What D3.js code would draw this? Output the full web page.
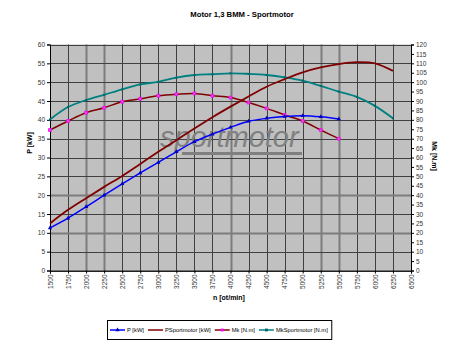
<!DOCTYPE html>
<html>
<head>
<meta charset="utf-8">
<script src="https://cdn.jsdelivr.net/npm/d3@7"></script>
<style>
  body { margin: 0; background: #fff; }
  text { font-family: "Liberation Sans", Arial, sans-serif; }
</style>
</head>
<body>
<div id="chart"></div>
<script>
// data
var rpm = [1500, 1750, 2000, 2250, 2500, 2750, 3000, 3250, 3500, 3750, 4000,
           4250, 4500, 4750, 5000, 5250, 5500, 5750, 6000, 6250];
var pKw = [11.3, 13.9, 16.9, 20.0, 23.0, 25.9, 28.7, 31.5, 34.2, 36.2, 38.0,
           39.6, 40.4, 40.9, 41.1, 40.8, 40.2];
var pSportKw = [12.5, 16.1, 19.2, 22.2, 25.1, 28.3, 31.5, 34.6, 37.7, 40.7, 43.5,
                46.2, 48.8, 50.8, 52.6, 53.9, 54.8, 55.3, 55.0, 53.0];
var mkNm = [74.6, 79.4, 83.8, 86.4, 89.6, 91.2, 92.8, 93.6, 94.0, 92.8, 91.8,
            89.2, 86.1, 82.6, 79.4, 74.6, 70.0];
var mkSportNm = [80.2, 86.8, 90.5, 93.3, 96.2, 98.8, 100.2, 102.4, 103.8, 104.2, 104.7,
                 104.4, 103.8, 102.6, 100.8, 98.0, 95.0, 92.2, 87.4, 80.8];

var xTicks = d3.range(1500, 6501, 250);
var yLeftTicks = d3.range(0, 61, 5);
var yRightTicks = d3.range(0, 121, 5);

function init(){
  var w = 472, h = 353;
  var pLeft = 50, pRight = 411, pTop = 44.5, pBottom = 270.5;

  var svg = d3.select("#chart").append("svg")
    .attr("width", w).attr("height", h);

  var x = d3.scaleLinear().domain([1500, 6500]).range([pLeft, pRight]);
  var yL = d3.scaleLinear().domain([0, 60]).range([pBottom, pTop]);
  var yR = d3.scaleLinear().domain([0, 120]).range([pBottom, pTop]);

  // plot area
  svg.append("rect")
    .attr("x", pLeft).attr("y", pTop)
    .attr("width", pRight - pLeft).attr("height", pBottom - pTop)
    .attr("fill", "#c0c0c0");

  // gridlines (a few come out heavier in the original scan)
  var heavyX = [2000, 2250, 4000, 5250, 5500];
  var heavyY = [10, 20];
  svg.append("g").selectAll("line").data(xTicks).enter().append("line")
    .attr("x1", function(d){ return Math.round(x(d)) + 0.5; })
    .attr("x2", function(d){ return Math.round(x(d)) + 0.5; })
    .attr("y1", pTop).attr("y2", pBottom)
    .attr("stroke", function(d){ return heavyX.indexOf(d) >= 0 ? "#7c7c7c" : "#404040"; })
    .attr("stroke-width", function(d){ return heavyX.indexOf(d) >= 0 ? 2 : 1; });
  svg.append("g").selectAll("line").data(yLeftTicks).enter().append("line")
    .attr("y1", function(d){ return Math.round(yL(d)) + 0.5; })
    .attr("y2", function(d){ return Math.round(yL(d)) + 0.5; })
    .attr("x1", pLeft).attr("x2", pRight)
    .attr("stroke", function(d){ return heavyY.indexOf(d) >= 0 ? "#7c7c7c" : "#404040"; })
    .attr("stroke-width", function(d){ return heavyY.indexOf(d) >= 0 ? 2 : 1; });

  // watermark
  svg.append("text")
    .attr("x", 160).attr("y", 147)
    .attr("font-size", 29).attr("font-style", "italic")
    .attr("fill", "#808080")
    .text("sportmotor");
  svg.append("rect")
    .attr("x", 182).attr("y", 152).attr("width", 120).attr("height", 3)
    .attr("fill", "#808080");

  // axes
  var axisLeft = svg.append("g")
    .attr("transform", "translate(" + pLeft + ",0)")
    .call(d3.axisLeft(yL).tickValues(yLeftTicks).tickSize(3).tickPadding(2));
  var axisRight = svg.append("g")
    .attr("transform", "translate(" + pRight + ",0)")
    .call(d3.axisRight(yR).tickValues(yRightTicks).tickSize(3).tickPadding(2));
  var axisBottom = svg.append("g")
    .attr("transform", "translate(0," + pBottom + ")")
    .call(d3.axisBottom(x).tickValues(xTicks).tickSize(3).tickFormat(d3.format("d")));

  axisBottom.selectAll("text")
    .attr("transform", "rotate(-90)")
    .attr("x", -4).attr("y", 0).attr("dy", "0.35em")
    .style("text-anchor", "end");

  [axisLeft, axisRight, axisBottom].forEach(function(a){
    a.attr("font-family", null);
    a.selectAll("text").attr("font-size", 6.5).attr("fill", "#333");
    a.selectAll("line").attr("stroke", "#000");
    a.select(".domain").attr("stroke", "#000");
  });

  // lines
  var pts = function(vals){
    return vals.map(function(v, i){ return {r: rpm[i], v: v}; });
  };
  function drawSeries(vals, y, color, width){
    var line = d3.line()
      .x(function(d){ return x(d.r); })
      .y(function(d){ return y(d.v); })
      .curve(d3.curveCatmullRom);
    svg.append("path").datum(pts(vals))
      .attr("d", line).attr("fill", "none")
      .attr("stroke", color).attr("stroke-width", width);
  }
  drawSeries(mkSportNm, yR, "#008080", 1.8);
  drawSeries(mkNm, yR, "#800000", 1.5);
  drawSeries(pSportKw, yL, "#800000", 1.8);
  drawSeries(pKw, yL, "#0000ff", 1.5);

  // markers
  var triangle = d3.symbol().type(d3.symbolTriangle).size(8);
  var square = d3.symbol().type(d3.symbolSquare).size(8);
  var cross = d3.symbol().type(d3.symbolX).size(8);

  svg.append("g").selectAll("path").data(pts(mkSportNm)).enter().append("path")
    .attr("d", d3.symbol().type(d3.symbolSquare).size(4))
    .attr("transform", function(d){ return "translate(" + x(d.r) + "," + yR(d.v) + ")"; })
    .attr("fill", "#006868");
  svg.append("g").selectAll("path").data(pts(mkNm)).enter().append("path")
    .attr("d", square)
    .attr("transform", function(d){ return "translate(" + x(d.r) + "," + yR(d.v) + ")"; })
    .attr("fill", "#c860c8").attr("stroke", "#ff00ff").attr("stroke-width", 0.9);
  svg.append("g").selectAll("path").data(pts(pSportKw)).enter().append("path")
    .attr("d", cross)
    .attr("transform", function(d){ return "translate(" + x(d.r) + "," + yL(d.v) + ")"; })
    .attr("fill", "#806080");
  svg.append("g").selectAll("path").data(pts(pKw)).enter().append("path")
    .attr("d", triangle)
    .attr("transform", function(d){ return "translate(" + x(d.r) + "," + yL(d.v) + ")"; })
    .attr("fill", "#0000c0");

  // titles
  svg.append("text")
    .attr("x", 242).attr("y", 17).attr("text-anchor", "middle")
    .attr("font-size", 7.7).attr("font-weight", "bold")
    .text("Motor 1,3 BMM - Sportmotor");
  svg.append("text")
    .attr("x", 229).attr("y", 300).attr("text-anchor", "middle")
    .attr("font-size", 7).attr("font-weight", "bold")
    .text("n [ot/min]");
  svg.append("text")
    .attr("transform", "translate(32,143) rotate(-90)")
    .attr("text-anchor", "middle")
    .attr("font-size", 7).attr("font-weight", "bold")
    .text("P [kW]");
  svg.append("text")
    .attr("transform", "translate(432,156) rotate(90)")
    .attr("text-anchor", "middle")
    .attr("font-size", 7).attr("font-weight", "bold")
    .text("Mk [N.m]");

  // legend
  var legendItems = [
    {name: "P [kW]", color: "#0000ff", sym: triangle, fill: "#0000c0"},
    {name: "PSportmotor [kW]", color: "#800000", sym: cross, fill: "#604060"},
    {name: "Mk [N.m]", color: "#800000", sym: square, fill: "#ff00ff"},
    {name: "MkSportmotor [N.m]", color: "#008080", sym: square, fill: "#006868"}
  ];
  var legend = svg.append("g");
  var box = legend.append("rect")
    .attr("x", 107.5).attr("y", 320.5).attr("height", 19)
    .attr("fill", "#fff").attr("stroke", "#000").attr("stroke-width", 1);
  var lx = 110, ly = 330;
  legendItems.forEach(function(it){
    legend.append("line")
      .attr("x1", lx).attr("x2", lx + 15).attr("y1", ly).attr("y2", ly)
      .attr("stroke", it.color).attr("stroke-width", 1.5);
    legend.append("path").attr("d", it.sym)
      .attr("transform", "translate(" + (lx + 7.5) + "," + ly + ")")
      .attr("fill", it.fill);
    var t = legend.append("text")
      .attr("x", lx + 17).attr("y", ly).attr("dy", "0.35em")
      .attr("font-size", 5.8).attr("fill", "#000")
      .text(it.name);
    lx = lx + 17 + t.node().getComputedTextLength() + 4;
  });
  box.attr("width", lx - 107.5);
}

window.onload = init;
</script>
</body>
</html>
